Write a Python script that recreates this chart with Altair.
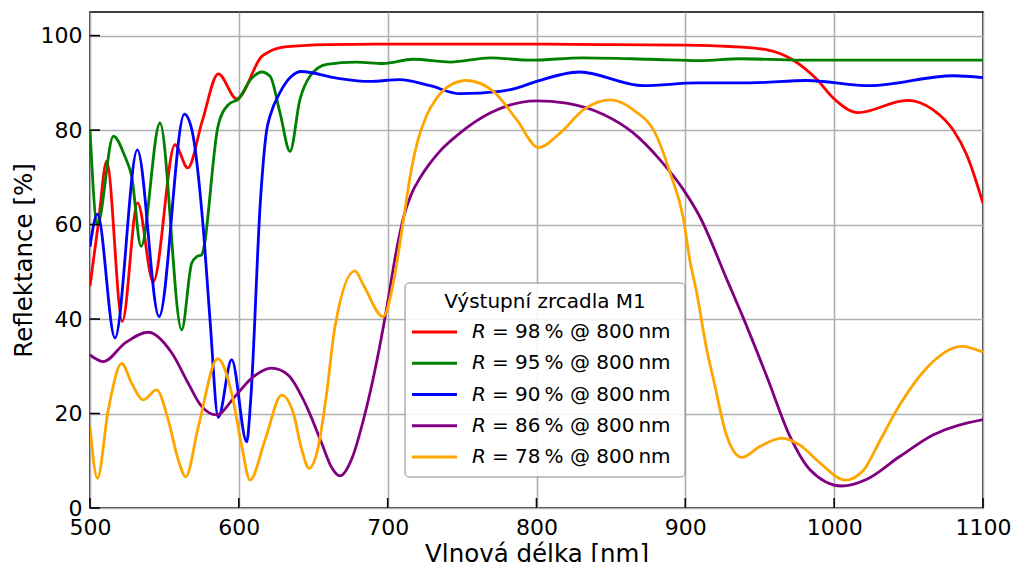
import altair as alt
import pandas as pd

# Reflectance spectra of the M1 output couplers (wavelength in nm, reflectance in %)
red_wl = [500, 505.5, 511.2, 521.7, 532, 542.5, 557.1, 565.7, 575.5, 586.2, 598.6, 615.4, 621, 631, 643,
          660, 700, 750, 800, 850, 900, 930, 955, 972, 988.5, 999, 1016, 1049, 1066.5, 1080, 1089, 1100]
red_r = [47, 60, 73.4, 39.5, 64.6, 47.9, 76.9, 72, 82, 91.9, 86.6, 95.6, 96.7, 97.6, 97.9,
         98.1, 98.2, 98.2, 98.2, 98.1, 98.0, 97.7, 97.0, 94.9, 90.7, 86.9, 83.7, 86.3, 84.3, 80, 74.8, 64.5]

green_wl = [500, 505, 515.7, 523.5, 528, 534.3, 547, 561.6, 568.3, 571.7, 575, 586, 593, 599.7, 608.7,
            615.4, 621, 627.7, 634.4, 641, 647.8, 659, 679, 697, 717, 742, 769, 796, 831, 876, 910,
            937, 977, 1022, 1100]
green_r = [80, 60, 78.7, 74.4, 70.2, 55.4, 81.5, 37.7, 51.8, 53.2, 53.6, 80.8, 85.4, 86.6, 91,
           92.3, 91.4, 83.6, 75.5, 86.4, 91.4, 93.9, 94.4, 94.1, 95.0, 94.4, 95.3, 94.8, 95.3, 95.0, 94.7,
           95.1, 94.8, 94.8, 94.8]

blue_wl = [500, 505, 516.8, 531.8, 546.4, 563.4, 568.5, 575.9, 580.6, 586.2, 595.2, 605.3, 608, 614.5,
           618.7, 621, 627.7, 635, 642, 665.8, 688, 708, 728.5, 748.7, 775.5, 786.7, 800, 829, 871.6,
           908, 943.5, 981.6, 1024, 1080, 1100]
blue_r = [55.3, 62.2, 36, 75.8, 40.5, 83.4, 80, 60, 40, 19.2, 31.4, 14.0, 23, 65,
          80, 83, 88, 91.3, 92.4, 91.0, 90.3, 90.7, 89.4, 87.7, 88.2, 88.9, 90.3, 92.3, 89.4,
          90.0, 90.0, 90.5, 89.4, 91.5, 91.1]

purple_wl = [500, 509, 523.5, 539, 555, 566, 575, 585, 597.4, 608.7, 622, 633, 644.5, 655.7, 662,
             668, 676, 684, 692, 700, 705, 710.6, 716, 722, 728.5, 735, 748.7, 768.8, 800, 820, 845,
             865, 883, 898.7, 910, 928, 939, 954.8, 970.4, 983.9, 1005, 1022, 1044, 1066.7, 1100]
purple_r = [32.4, 31.0, 34.9, 37.2, 32.8, 26.4, 21.5, 19.7, 23.6, 27.5, 29.6, 28.2, 22.2, 13.7, 8.8,
            6.8, 10.5, 19, 30, 43.5, 53, 61.5, 66.5, 70, 73, 75.5, 79.4, 83.6, 86.2, 85.7, 83.3,
            79.4, 73.7, 67.4, 61.5, 48.3, 40.2, 27.8, 15.1, 8.05, 4.66, 6.1, 10.9, 15.5, 18.7]

orange_wl = [500, 505, 512.3, 521.3, 528, 535.8, 544.8, 552.6, 559.3, 564.3, 572.8, 585.8, 595.2, 602,
             607.5, 617.6, 628.8, 636.6, 642.3, 647.2, 653.4, 659, 664.6, 678, 683.7, 697, 704, 710.6,
             715, 720, 726, 733, 742, 753, 771, 786.7, 801.3, 816, 831.5, 849.5, 865, 880.8, 889.8,
             898.7, 903, 907.7, 914.4, 919, 928, 938, 950, 964.8, 977, 990.6, 1007.4, 1019.7, 1031,
             1044, 1062, 1085.8, 1100]
orange_r = [17.2, 6.3, 20.8, 30.6, 26.4, 22.9, 25.0, 18.6, 10.2, 6.6, 17.2, 31.6, 24.3, 13.0,
            5.9, 14.4, 23.9, 20.1, 12.3, 8.4, 13.0, 24.3, 38.4, 50.2, 47.2, 40.5, 48, 61,
            70, 77.5, 83, 86.8, 89.5, 90.5, 88.2, 82.2, 76.3, 79.4, 84.3, 86.4, 84.3, 78.7, 70.9,
            61.3, 52.5, 45.5, 33.5, 27.1, 15.1, 10.7, 13.0, 14.8, 13.3, 9.5, 5.9, 8.0, 14.4,
            21.8, 29.6, 34.2, 33.0]

series_values = ["98", "95", "90", "86", "78"]
series_colors = ["#ff0000", "#008000", "#0000ff", "#800080", "#ffa500"]
series_data = [(red_wl, red_r), (green_wl, green_r), (blue_wl, blue_r),
               (purple_wl, purple_r), (orange_wl, orange_r)]

x_ticks = [500, 600, 700, 800, 900, 1000, 1100]
y_ticks = [0, 20, 40, 60, 80, 100]

legend_title = "Výstupní zrcadla M1"
x_title = "Vlnová délka [nm]"
y_title = "Reflektance [%]"

W, H = 893, 496
FONT = "DejaVu Sans"

x_enc = alt.X(
    "wl:Q",
    scale=alt.Scale(domain=[500, 1100], nice=False, zero=False),
    axis=alt.Axis(values=x_ticks, title=x_title, format="d", labelPadding=9, titlePadding=4,
                  labelFlush=False, labelOverlap=False),
)
y_enc = alt.Y(
    "R:Q",
    scale=alt.Scale(domain=[0, 105], nice=False),
    axis=alt.Axis(values=y_ticks, title=y_title, format="d", labelPadding=8, titlePadding=4,
                  labelFlush=False, labelOverlap=False),
)

layers = []

# spectra
for (wl, r), col in zip(series_data, series_colors):
    df = pd.DataFrame({"wl": wl, "R": r})
    layers.append(
        alt.Chart(df).mark_line(color=col, strokeWidth=2.8, interpolate="monotone", clip=True)
        .encode(x=x_enc, y=y_enc)
    )

# inward-pointing tick marks
layers.append(
    alt.Chart(pd.DataFrame({"wl": x_ticks})).mark_rule(color="black", strokeWidth=1.6)
    .encode(x=x_enc, y=alt.value(H), y2=alt.value(H - 10))
)
layers.append(
    alt.Chart(pd.DataFrame({"R": y_ticks})).mark_rule(color="black", strokeWidth=1.6)
    .encode(y=y_enc, x=alt.value(0), x2=alt.value(10))
)

# legend box
box_l, box_r, box_t, box_b = 315, 595, 271, 465
one = pd.DataFrame({"k": [0]})
layers.append(
    alt.Chart(one).mark_rect(fill="white", fillOpacity=0.85, stroke="#8a8a8a", strokeWidth=1,
                             cornerRadius=4)
    .encode(x=alt.value(box_l), x2=alt.value(box_r), y=alt.value(box_t), y2=alt.value(box_b))
)
layers.append(
    alt.Chart(pd.DataFrame({"t": [legend_title]})).mark_text(
        font=FONT, fontSize=20, align="center", baseline="middle", color="black")
    .encode(x=alt.value((box_l + box_r) / 2), y=alt.value(290), text="t:N")
)
row0, step = 320, 31.25
for i, (val, col) in enumerate(zip(series_values, series_colors)):
    yy = row0 + i * step
    layers.append(
        alt.Chart(one).mark_rule(color=col, strokeWidth=2.8)
        .encode(x=alt.value(322), x2=alt.value(367), y=alt.value(yy))
    )
    layers.append(
        alt.Chart(pd.DataFrame({"t": ["R"]})).mark_text(
            font=FONT, fontSize=20, fontStyle="italic", align="left", baseline="middle", color="black")
        .encode(x=alt.value(382), y=alt.value(yy), text="t:N")
    )
    layers.append(
        alt.Chart(pd.DataFrame({"t": [f"= {val}\u2009% @ 800\u2009nm"]})).mark_text(
            font=FONT, fontSize=20, align="left", baseline="middle", color="black")
        .encode(x=alt.value(402), y=alt.value(yy), text="t:N")
    )

chart = (
    alt.layer(*layers)
    .properties(
        width=W, height=H,
        autosize=alt.AutoSizeParams(type="none"),
        padding={"left": 90, "top": 12, "right": 32, "bottom": 54},
    )
    .configure(font=FONT)
    .configure_view(stroke="black", strokeWidth=1.6)
    .configure_axis(
        grid=True, gridColor="#b0b0b0", gridWidth=1.6, gridOpacity=1,
        ticks=False, tickSize=0, domain=False,
        labelFont=FONT, labelFontSize=22, labelColor="black",
        titleFont=FONT, titleFontSize=24.5, titleFontWeight="normal", titleColor="black",
    )
)

chart.save("out.html", embed_options={"renderer": "svg", "actions": False})
